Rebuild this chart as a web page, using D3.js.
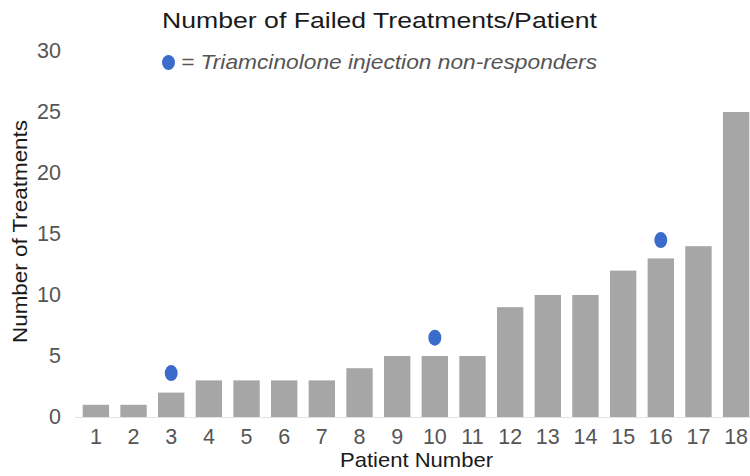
<!DOCTYPE html>
<html>
<head>
<meta charset="utf-8">
<script src="https://cdn.jsdelivr.net/npm/d3@7"></script>
<style>
  body { margin: 0; background: #fff; }
  text { font-family: "Liberation Sans", Arial, sans-serif; }
</style>
</head>
<body>
<div id="chart"></div>
<script>
var patients = ["1","2","3","4","5","6","7","8","9","10","11","12","13","14","15","16","17","18"];
var treatments = [1, 1, 2, 3, 3, 3, 3, 4, 5, 5, 5, 9, 10, 10, 12, 13, 14, 25];
// blue dots: triamcinolone injection non-responders
var dotPatients = ["3", "10", "16"];
var dotValues = [3.6, 6.5, 14.5];
var yTicks = [0, 5, 10, 15, 20, 25, 30];

var width = 750;
var height = 476;

var svg = d3.select("#chart")
    .append("svg")
      .attr("width", width)
      .attr("height", height);

var x = d3.scaleBand()
    .domain(patients)
    .range([82.7, 749.3])
    .paddingInner(0.3)
    .paddingOuter(0);

var y = d3.scaleLinear()
    .domain([0, 30])
    .range([417, 51]);

// baseline
svg.append("line")
    .attr("x1", 75)
    .attr("x2", width)
    .attr("y1", y(0) + 0.5)
    .attr("y2", y(0) + 0.5)
    .style("stroke", "#e2e2e2")
    .style("stroke-width", 1);

svg.selectAll("rect.bar")
    .data(treatments)
    .enter()
    .append("rect")
      .attr("class", "bar")
      .attr("x", function(d, i) { return x(patients[i]); })
      .attr("y", function(d) { return y(d); })
      .attr("width", x.bandwidth())
      .attr("height", function(d) { return y(0) - y(d); })
      .style("fill", "#a6a6a6");

svg.selectAll("ellipse.dot")
    .data(dotValues)
    .enter()
    .append("ellipse")
      .attr("class", "dot")
      .attr("cx", function(d, i) { return x(dotPatients[i]) + x.bandwidth() / 2; })
      .attr("cy", function(d) { return y(d); })
      .attr("rx", 6.5)
      .attr("ry", 8)
      .style("fill", "#3b6bcb");

// y axis
var yAxis = d3.axisLeft(y).tickValues(yTicks).tickSize(0).tickPadding(0);
var gy = svg.append("g")
    .attr("transform", "translate(61,0)")
    .call(yAxis);
gy.select(".domain").remove();
gy.selectAll("text")
    .style("font-size", "21.5px")
    .style("fill", "#555");

// x axis
var xAxis = d3.axisBottom(x).tickSize(0).tickPadding(0);
var gx = svg.append("g")
    .attr("transform", "translate(0,429)")
    .call(xAxis);
gx.select(".domain").remove();
gx.selectAll("text")
    .style("font-size", "21.5px")
    .style("fill", "#555");

svg.append("text")
    .attr("x", 379.5)
    .attr("y", 28)
    .attr("text-anchor", "middle")
    .attr("textLength", 435)
    .attr("lengthAdjust", "spacingAndGlyphs")
    .style("font-size", "22px")
    .style("fill", "#1a1a1a")
    .text("Number of Failed Treatments/Patient");

svg.append("ellipse")
    .attr("cx", 168.5)
    .attr("cy", 62.5)
    .attr("rx", 6.5)
    .attr("ry", 7.5)
    .style("fill", "#3b6bcb");

svg.append("text")
    .attr("x", 181)
    .attr("y", 68.5)
    .attr("textLength", 416)
    .attr("lengthAdjust", "spacingAndGlyphs")
    .style("font-size", "21px")
    .style("font-style", "italic")
    .style("fill", "#555")
    .text("= Triamcinolone injection non-responders");

svg.append("text")
    .attr("transform", "translate(27,231.5) rotate(-90)")
    .attr("text-anchor", "middle")
    .attr("textLength", 223)
    .attr("lengthAdjust", "spacingAndGlyphs")
    .style("font-size", "20.5px")
    .style("fill", "#1a1a1a")
    .text("Number of Treatments");

svg.append("text")
    .attr("x", 416.5)
    .attr("y", 466.5)
    .attr("text-anchor", "middle")
    .attr("textLength", 153)
    .attr("lengthAdjust", "spacingAndGlyphs")
    .style("font-size", "21px")
    .style("fill", "#1a1a1a")
    .text("Patient Number");
</script>
</body>
</html>
